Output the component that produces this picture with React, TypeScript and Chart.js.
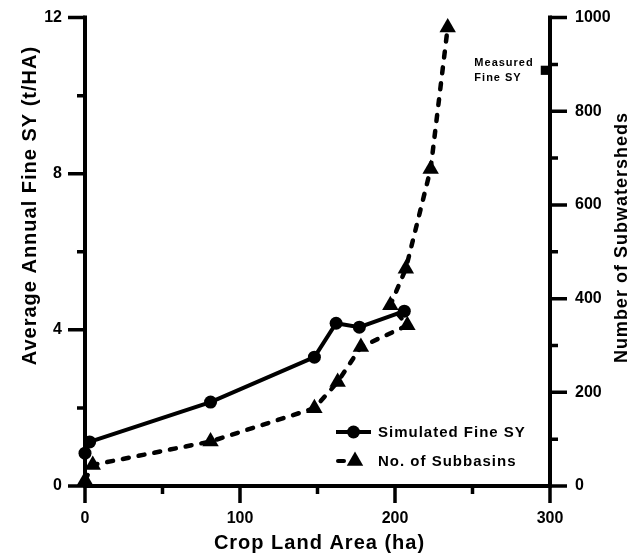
import React, { useEffect, useRef } from 'react';
import { Chart, registerables } from 'chart.js';
Chart.register(...registerables);

// ---- data ----
const simX = [0, 3, 81, 148, 162, 177, 206];
const simY = [0.84, 1.13, 2.15, 3.3, 4.17, 4.07, 4.48];
const subX = [0, 5, 81, 148, 163, 178, 208, 197, 207, 223, 234];
const subY = [12, 45, 95, 166, 222, 297, 343, 386, 464, 677, 979];
const measuredX = [297];
const measuredY = [10.65];
const xTicks = [0, 100, 200, 300];
const yLeftTicks = [0, 4, 8, 12];
const yRightTicks = [0, 200, 400, 600, 800, 1000];
const seriesNames = ['Simulated Fine SY', 'No. of Subbasins'];
const measuredLabel = ['Measured', 'Fine SY'];
const xTitle = 'Crop Land Area (ha)';
const yTitle = 'Average Annual Fine SY (t/HA)';
const y1Title = 'Number of Subwatersheds';

const FAMILY = '"Liberation Sans", Arial, Helvetica, sans-serif';
const tickFont = { family: FAMILY, weight: 'bold' as const, size: 16 };

const axesPlugin = {
  id: 'customAxes',
  beforeDatasetsDraw(chart: any) {
    const { ctx, chartArea: a, scales } = chart;
    const sx = scales.x, sy = scales.y, sy1 = scales.y1;
    ctx.save();
    ctx.strokeStyle = '#000';
    ctx.lineWidth = 4;
    ctx.lineCap = 'square';
    ctx.beginPath();
    ctx.moveTo(a.left, a.top); ctx.lineTo(a.left, a.bottom);
    ctx.moveTo(a.left, a.bottom); ctx.lineTo(a.right, a.bottom);
    ctx.moveTo(a.right, a.top); ctx.lineTo(a.right, a.bottom);
    ctx.stroke();
    ctx.lineCap = 'butt';
    ctx.lineWidth = 3.5;
    ctx.beginPath();
    sx.ticks.forEach((t: any) => {
      const p = sx.getPixelForValue(t.value);
      const len = xTicks.includes(t.value) ? 17 : 8;
      ctx.moveTo(p, a.bottom); ctx.lineTo(p, a.bottom + len);
    });
    sy.ticks.forEach((t: any) => {
      const p = sy.getPixelForValue(t.value);
      const len = yLeftTicks.includes(t.value) ? 17 : 8;
      ctx.moveTo(a.left, p); ctx.lineTo(a.left - len, p);
    });
    sy1.ticks.forEach((t: any) => {
      const p = sy1.getPixelForValue(t.value);
      const len = yRightTicks.includes(t.value) ? 17 : 8;
      ctx.moveTo(a.right, p); ctx.lineTo(a.right + len, p);
    });
    ctx.stroke();
    ctx.restore();
  },
  afterDraw(chart: any) {
    const { ctx, chartArea: a, scales } = chart;
    ctx.save();
    ctx.fillStyle = '#000';
    ctx.strokeStyle = '#000';
    ctx.textBaseline = 'middle';
    // axis titles
    (ctx as any).letterSpacing = '1px';
    ctx.font = `bold 20px ${FAMILY}`;
    ctx.textAlign = 'center';
    ctx.fillText(xTitle, (a.left + a.right) / 2 + 2, a.bottom + 57);
    ctx.save();
    ctx.translate(30, a.top + 188);
    ctx.rotate(-Math.PI / 2);
    ctx.fillText(yTitle, 0, 0);
    ctx.restore();
    ctx.save();
    ctx.font = `bold 18px ${FAMILY}`;
    ctx.translate(a.right + 72, a.top + 220);
    ctx.rotate(-Math.PI / 2);
    ctx.fillText(y1Title, 0, 0);
    ctx.restore();

    // measured label
    const mx = scales.x.getPixelForValue(measuredX[0]);
    const my = scales.y.getPixelForValue(measuredY[0]);
    ctx.font = `bold 11px ${FAMILY}`;
    ctx.textAlign = 'left';
    ctx.fillText(measuredLabel[0], mx - 71, my - 7);
    ctx.fillText(measuredLabel[1], mx - 71, my + 8);

    // legend
    const lx0 = 336, lx1 = 371, tx = 378;
    const rows = [432, 461];
    ctx.font = `bold 15px ${FAMILY}`;
    ctx.lineWidth = 4;
    // row 1
    ctx.beginPath();
    ctx.moveTo(lx0, rows[0]); ctx.lineTo(lx1, rows[0]);
    ctx.stroke();
    ctx.beginPath();
    ctx.arc((lx0 + lx1) / 2, rows[0], 6.5, 0, Math.PI * 2);
    ctx.fill();
    ctx.fillText(seriesNames[0], tx, rows[0] + 1);
    // row 2
    ctx.lineCap = 'round';
    ctx.beginPath();
    ctx.moveTo(lx0 + 2, rows[1]); ctx.lineTo(lx0 + 8, rows[1]);
    ctx.stroke();
    const cx = 355, r = 9.5;
    ctx.beginPath();
    ctx.moveTo(cx, rows[1] - r);
    ctx.lineTo(cx + r * Math.sin(Math.PI / 3), rows[1] + r / 2);
    ctx.lineTo(cx - r * Math.sin(Math.PI / 3), rows[1] + r / 2);
    ctx.closePath();
    ctx.fill();
    ctx.fillText(seriesNames[1], tx, rows[1] + 1);
    ctx.restore();
  },
};

export default function App() {
  const ref = useRef<HTMLCanvasElement>(null);
  useEffect(() => {
    document.body.style.margin = '0';
    const chart = new Chart(ref.current as HTMLCanvasElement, {
      type: 'line',
      data: {
        datasets: [
          {
            label: seriesNames[0],
            data: simX.map((x, i) => ({ x, y: simY[i] })),
            yAxisID: 'y',
            borderColor: '#000',
            backgroundColor: '#000',
            borderWidth: 4,
            pointStyle: 'circle',
            pointRadius: 6.5,
            pointBorderWidth: 0,
            pointBackgroundColor: '#000',
            tension: 0,
            clip: false,
          },
          {
            label: seriesNames[1],
            data: subX.map((x, i) => ({ x, y: subY[i] })),
            yAxisID: 'y1',
            borderColor: '#000',
            backgroundColor: '#000',
            borderWidth: 4.5,
            borderDash: [6, 10],
            borderCapStyle: 'round',
            pointStyle: 'triangle',
            pointRadius: 9.5,
            pointBorderWidth: 0,
            pointBackgroundColor: '#000',
            tension: 0,
            clip: false,
          },
          {
            label: 'Measured Fine SY',
            data: measuredX.map((x, i) => ({ x, y: measuredY[i] })),
            yAxisID: 'y',
            showLine: false,
            pointStyle: 'rect',
            pointRadius: 6.5,
            pointBorderWidth: 0,
            pointBackgroundColor: '#000',
            clip: false,
          },
        ],
      },
      options: {
        responsive: false,
        animation: false,
        events: [],
        layout: { padding: { top: 17, left: 0, right: 0, bottom: 0 } },
        plugins: { legend: { display: false }, tooltip: { enabled: false } },
        scales: {
          x: {
            type: 'linear',
            min: 0,
            max: 300,
            ticks: {
              stepSize: 50,
              autoSkip: false,
              maxRotation: 0,
              padding: 6,
              color: '#000',
              font: tickFont,
              callback: (v: any) => (xTicks.includes(v) ? String(v) : ''),
            },
            grid: { display: false, drawTicks: true, tickLength: 17 },
            border: { display: false },
            afterFit: (s: any) => { s.height = 68; },
          },
          y: {
            type: 'linear',
            position: 'left',
            min: 0,
            max: 12,
            ticks: {
              stepSize: 2,
              autoSkip: false,
              padding: 6,
              color: '#000',
              font: tickFont,
              callback: (v: any) => (yLeftTicks.includes(v) ? String(v) : ''),
            },
            grid: { display: false, drawTicks: true, tickLength: 17 },
            border: { display: false },
            afterFit: (s: any) => { s.width = 85; },
          },
          y1: {
            type: 'linear',
            position: 'right',
            min: 0,
            max: 1000,
            ticks: {
              stepSize: 100,
              autoSkip: false,
              padding: 8,
              color: '#000',
              font: tickFont,
              callback: (v: any) => (yRightTicks.includes(v) ? String(v) : ''),
            },
            grid: { display: false, drawTicks: true, tickLength: 17 },
            border: { display: false },
            afterFit: (s: any) => { s.width = 92; },
          },
        },
      },
      plugins: [axesPlugin],
    } as any);
    return () => chart.destroy();
  }, []);
  return (
    <div style={{ position: 'absolute', left: 0, top: 0, width: 642, height: 554, background: '#fff' }}>
      <canvas ref={ref} width={642} height={554} />
    </div>
  );
}
